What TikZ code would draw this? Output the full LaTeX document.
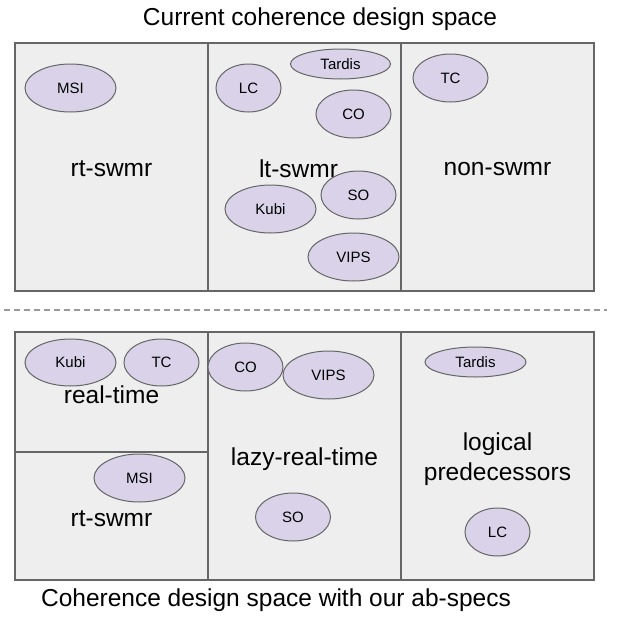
\documentclass[tikz,border=0pt]{standalone}
\usepackage{fontspec}
\setmainfont{Liberation Sans}
\usetikzlibrary{shapes.geometric}
\definecolor{boxfill}{HTML}{EEEEEE}
\definecolor{edge}{HTML}{666666}
\definecolor{lav}{HTML}{D9D2E9}
\definecolor{dashc}{HTML}{999999}
\begin{document}
\begin{tikzpicture}[x=1pt,y=-1pt,
  region/.style={draw=edge, fill=boxfill, line width=1.5pt, rectangle, inner sep=0pt,
    minimum width=193pt},
  lbl/.style={inner sep=0pt, align=center, font=\fontsize{24.5}{29.5}\selectfont},
  blob/.style={draw=edge, fill=lav, line width=1pt, ellipse, inner sep=0pt,
    font=\fontsize{15}{18}\selectfont},
  heading/.style={font=\fontsize{24.5}{29}\selectfont, inner sep=0pt}]
\useasboundingbox (0,0) rectangle (638,627);
% titles
\node[heading] (t1) at (320,19.5) {Current coherence design space};
\node[heading] (t2) at (276,600.5) {Coherence design space with our ab-specs};
% top regions
\node[region, minimum height=248pt] (rt) at (111.5,167) {};
\node[region, minimum height=248pt] (lt) at (304.5,167) {};
\node[region, minimum height=248pt] (ns) at (497.5,167) {};
\node[lbl] (rtl) at (111.5,169) {rt-swmr};
\node[lbl] (ltl) at (298.5,169) {lt-swmr};
\node[lbl] (nsl) at (497.5,169) {non-swmr};
% top ellipses
\node[blob, minimum width=91pt, minimum height=48pt] (msi1) at (70.5,88) {MSI};
\node[blob, minimum width=65pt, minimum height=48pt] (lc1) at (248.5,88) {LC};
\node[blob, minimum width=100pt, minimum height=30pt] (tar1) at (340.5,64) {Tardis};
\node[blob, minimum width=75pt, minimum height=48pt] (co1) at (353.5,114) {CO};
\node[blob, minimum width=75pt, minimum height=48pt] (tc1) at (450.5,78) {TC};
\node[blob, minimum width=91pt, minimum height=48pt] (kubi1) at (270.5,209) {Kubi};
\node[blob, minimum width=75pt, minimum height=48pt] (so1) at (358.5,195) {SO};
\node[blob, minimum width=91pt, minimum height=48pt] (vips1) at (353.5,257) {VIPS};
% separator
\coordinate (d1) at (4,310);
\coordinate (d2) at (607,310);
\draw[dashc, line width=1.5pt, dash pattern=on 6pt off 4pt] (d1) -- (d2);
% bottom regions
\node[region, minimum height=120pt] (rtm) at (111.5,392) {};
\node[region, minimum height=128pt] (rt2) at (111.5,516) {};
\node[region, minimum height=248pt] (lrt) at (304.5,456) {};
\node[region, minimum height=248pt] (lp) at (497.5,456) {};
\node[lbl] (rtml) at (111.5,395) {real-time};
\node[lbl] (rt2l) at (111.5,519) {rt-swmr};
\node[lbl] (lrtl) at (304.5,459) {lazy-real-time};
\node[lbl] (lpl) at (497.5,459) {logical\\predecessors};
% bottom ellipses
\node[blob, minimum width=91pt, minimum height=47pt] (kubi2) at (70.5,362.5) {Kubi};
\node[blob, minimum width=75pt, minimum height=47pt] (tc2) at (161.5,362.5) {TC};
\node[blob, minimum width=91pt, minimum height=48pt] (msi2) at (139.5,478) {MSI};
\node[blob, minimum width=75pt, minimum height=48pt] (co2) at (245.5,367) {CO};
\node[blob, minimum width=91pt, minimum height=48pt] (vips2) at (328.5,375) {VIPS};
\node[blob, minimum width=75pt, minimum height=48pt] (so2) at (293,517) {SO};
\node[blob, minimum width=101pt, minimum height=30pt] (tar2) at (475.5,362) {Tardis};
\node[blob, minimum width=65pt, minimum height=48pt] (lc2) at (497.5,532) {LC};
\end{tikzpicture}
\end{document}
